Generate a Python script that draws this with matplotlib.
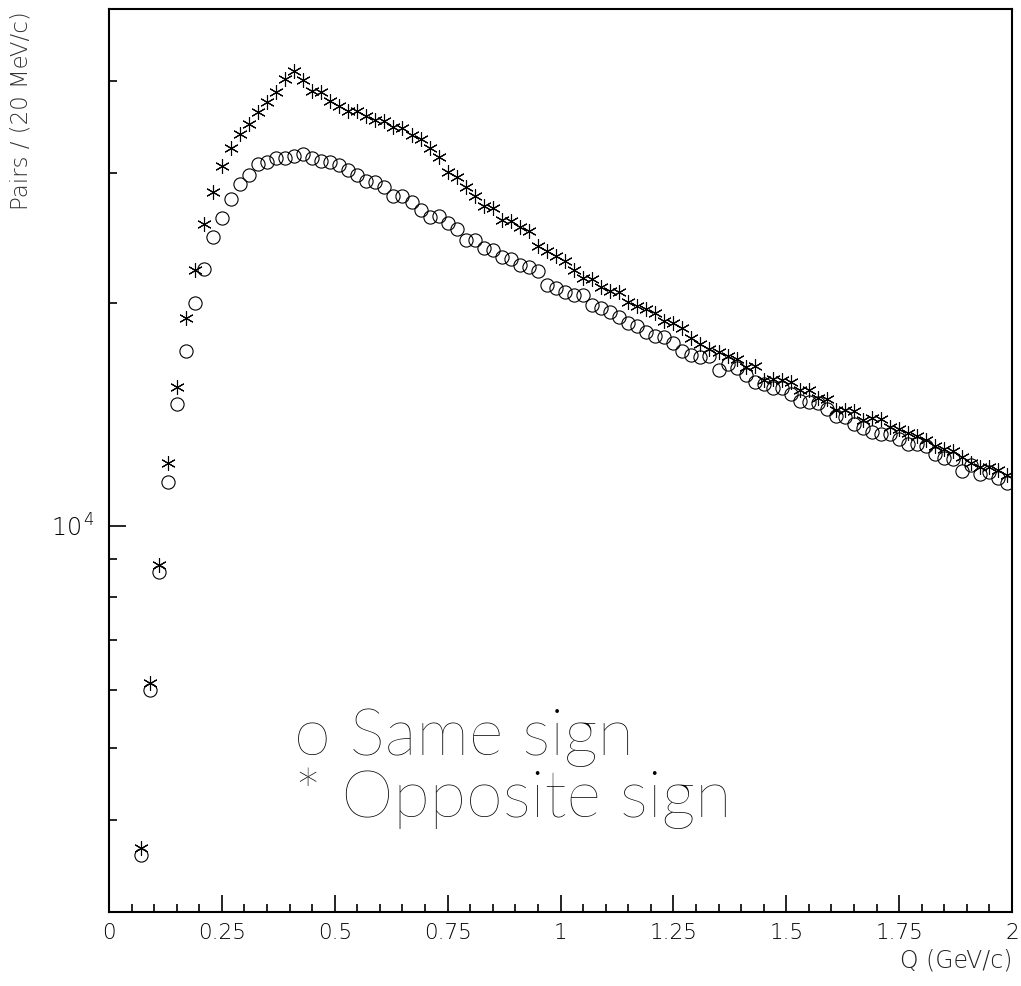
import matplotlib
matplotlib.use("Agg")
import matplotlib.pyplot as plt
from matplotlib.ticker import LogLocator, FixedLocator, MultipleLocator, NullFormatter, FuncFormatter

# bin centres, 20 MeV/c bins
q_start = 0.07
q_step = 0.02

same_sign = [
    3580, 6000, 8660, 11470, 14620, 17240, 19990, 22270, 24610, 26060,
    27650, 28950, 29770, 30820, 31040, 31400, 31400, 31620, 31790, 31400,
    31130, 31010, 30720, 30270, 29770, 29250, 29130, 28680, 27910, 27910,
    27390, 26770, 26120, 26230, 25640, 25160, 24380, 24380, 23780, 23580,
    23070, 22980, 22490, 22350, 22070, 21130, 20950, 20690, 20540, 20530,
    19910, 19720, 19480, 19180, 18820, 18600, 18300, 18070, 17970, 17670,
    17210, 17020, 16890, 16980, 16260, 16560, 16360, 15990, 15660, 15560,
    15330, 15330, 15080, 14740, 14680, 14650, 14380, 14050, 14030, 13740,
    13560, 13370, 13310, 13310, 13100, 12880, 12900, 12800, 12510, 12350,
    12300, 11840, 12080, 11750, 11800, 11600, 11410,
]

opposite_sign = [
    3660, 6130, 8850, 12160, 15420, 19120, 22160, 25560, 28230, 30650,
    32390, 33840, 34910, 36240, 37400, 38580, 40180, 41240, 40090, 38740,
    38580, 37520, 36980, 36390, 36360, 35830, 35350, 35270, 34620, 34480,
    33730, 33310, 32390, 31490, 30060, 29590, 28680, 27910, 27050, 26860,
    25880, 25800, 25390, 25000, 23860, 23560, 23150, 22790, 22140, 21610,
    21590, 21060, 20740, 20690, 20040, 19810, 19660, 19420, 18900, 18820,
    18530, 17920, 17630, 17350, 17190, 16940, 16820, 16410, 16460, 15760,
    15810, 15720, 15620, 15270, 15250, 14890, 14830, 14350, 14350, 14300,
    13910, 13980, 13950, 13590, 13510, 13340, 13230, 13060, 12820, 12690,
    12600, 12400, 12150, 12020, 12000, 11900, 11700,
]

q = [q_start + q_step * i for i in range(len(same_sign))]

x_ticks = [0, 0.25, 0.5, 0.75, 1, 1.25, 1.5, 1.75, 2]
x_ticklabels = ["0", "0.25", "0.5", "0.75", "1", "1.25", "1.5", "1.75", "2"]

plt.rcParams["font.family"] = ["DejaVu Sans"]
plt.rcParams["font.weight"] = "light"
plt.rcParams["axes.labelweight"] = "light"

fig = plt.figure(figsize=(10.21, 9.86), dpi=100)
ax = fig.add_axes([109 / 1021, 1 - 912 / 986, (1012 - 109) / 1021, (912 - 9) / 986])

ax.plot(q, same_sign, linestyle="none", marker="o", markersize=9.5,
        markerfacecolor="none", markeredgecolor="black", markeredgewidth=0.8)
ax.plot(q, opposite_sign, linestyle="none", marker=(6, 2, 0), markersize=10.5,
        markeredgecolor="black", markeredgewidth=0.8)

ax.set_yscale("log")
ax.set_xlim(0, 2)
ax.set_ylim(3000, 50000)

ax.xaxis.set_major_locator(FixedLocator(x_ticks))
ax.set_xticklabels(x_ticklabels)
ax.xaxis.set_minor_locator(MultipleLocator(0.05))
ax.yaxis.set_major_locator(FixedLocator([1e4]))
ax.yaxis.set_major_formatter(FuncFormatter(lambda v, p: r"$\mathregular{10^{\,4}}$"))
ax.yaxis.set_minor_locator(LogLocator(base=10, subs=range(2, 10)))
ax.yaxis.set_minor_formatter(NullFormatter())

ax.tick_params(which="major", direction="in", length=12, width=1.2, labelsize=15.5,
               top=False, right=False, pad=8, labelcolor="black")
ax.tick_params(which="minor", direction="in", length=6, width=1.2,
               top=False, right=False)
ax.tick_params(axis="y", which="major", labelsize=17, pad=10)
for sp in ax.spines.values():
    sp.set_linewidth(1.5)

ax.set_xlabel("Q (GeV/c)", fontsize=17, fontweight="light", loc="right",
              labelpad=4, color="#222222")
fig.text(21 / 1021, 1 - 11 / 986, "Pairs / (20 MeV/c)", fontsize=16.5, rotation=90,
         ha="center", va="top", color="#333333")

ax.text(0.205, 0.174, "o Same sign", transform=ax.transAxes, fontsize=48,
        family=["Lato", "DejaVu Sans"], fontweight="light", ha="left", va="baseline")
ax.text(0.205, 0.105, "* Opposite sign", transform=ax.transAxes, fontsize=48,
        family=["Lato", "DejaVu Sans"], fontweight="light", ha="left", va="baseline")

fig.savefig("out.png", dpi=100)
